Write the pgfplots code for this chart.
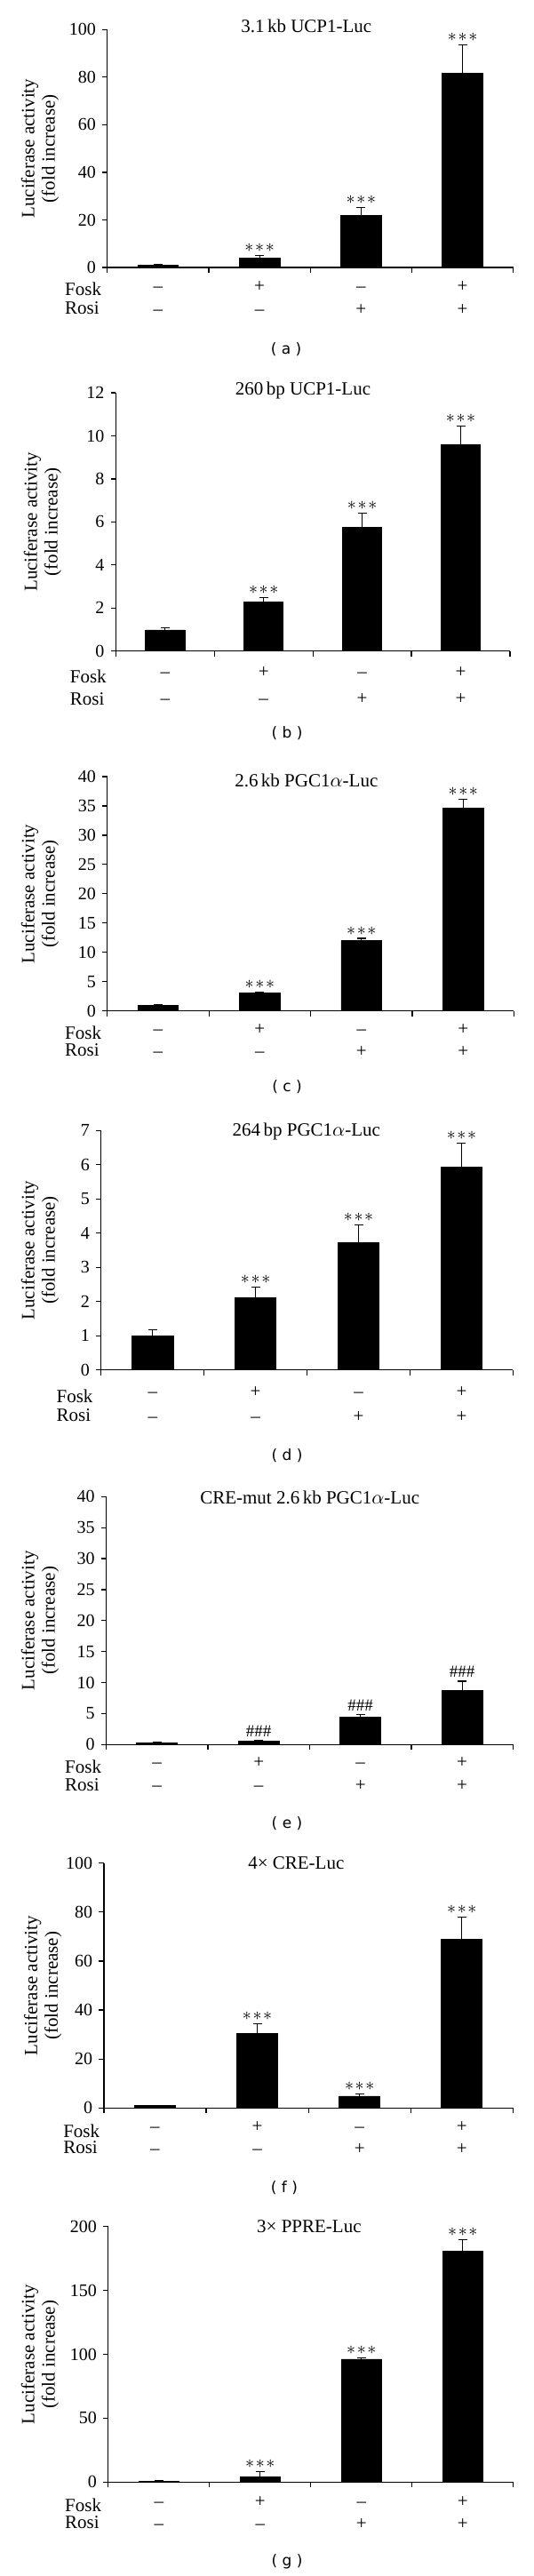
\documentclass[border=0pt]{standalone}
\usepackage{fontspec}
\setmainfont{Liberation Serif}
\newfontfamily\subfont{DejaVu Sans}
\usepackage{pgfplots}
\pgfplotsset{compat=1.18}
\newcommand{\st}{$\mathord{\ast}\mkern1.5mu\mathord{\ast}\mkern1.5mu\mathord{\ast}$}
\newcommand{\hs}{{\fontsize{9.5}{11}\selectfont\#\#\#}}
\tikzset{sg/.style={anchor=base, inner sep=0pt, font=\fontsize{10.5}{12}\selectfont},
  mk/.style={anchor=south, inner sep=0pt, yshift=1.8pt, font=\fontsize{10}{12}\selectfont},
  ttl/.style={anchor=base, inner sep=0pt, font=\fontsize{10.5}{12}\selectfont},
  ylab/.style={rotate=90, align=center, inner sep=0pt, font=\fontsize{10.5}{11.5}\selectfont},
  sub/.style={inner sep=0pt, font=\subfont\fontsize{8.5}{10}\selectfont}}
% #1 Fosk sign baseline, #2 Rosi sign baseline, #3 Fosk text baseline, #4 Rosi text baseline, #5 xshift
\newcommand{\rows}[5]{%
  \node[sg, yshift=-#1] at (axis cs:0,0) {\textendash};
  \node[sg, yshift=-#1] at (axis cs:1,0) {+};
  \node[sg, yshift=-#1] at (axis cs:2,0) {\textendash};
  \node[sg, yshift=-#1] at (axis cs:3,0) {+};
  \node[sg, yshift=-#2] at (axis cs:0,0) {\textendash};
  \node[sg, yshift=-#2] at (axis cs:1,0) {\textendash};
  \node[sg, yshift=-#2] at (axis cs:2,0) {+};
  \node[sg, yshift=-#2] at (axis cs:3,0) {+};
  \node[sg, anchor=base west, xshift=-#5, yshift=-#3] at (rel axis cs:0,0) {Fosk};
  \node[sg, anchor=base west, xshift=-#5, yshift=-#4] at (rel axis cs:0,0) {Rosi};
}
\pgfplotsset{
  panel/.style={
    scale only axis, anchor=south west, clip=false,
    ybar, bar width=0.4,
    xmin=-0.5, xmax=3.5, ymin=0, enlargelimits=false,
    axis x line*=bottom, axis y line*=left,
    axis line style={line width=0.6pt, -},
    xtick={-0.5,0.5,1.5,2.5,3.5}, xticklabels={},
    tick align=outside, major tick length=2.9pt,
    tick style={line width=0.6pt, black},
    yticklabel style={font=\fontsize{10}{12}\selectfont},
    /pgf/number format/assume math mode=true,
  },
  bars/.style={fill=black, draw=black, line width=0.4pt,
    error bars/.cd, y dir=plus, y explicit,
    error bar style={line width=0.55pt, black},
    error mark options={black, line width=0.55pt, mark size=2.5pt, rotate=90}}
}
\begin{document}
\begin{tikzpicture}
\useasboundingbox (0,0) rectangle (300pt,-1449.5pt);

% ---------- (a)
\begin{axis}[panel, at={(60.35pt,-150.5pt)}, width=228.55pt, height=133.85pt,
  ymax=100, ytick={0,20,40,60,80,100}]
\addplot[bars] coordinates {(0,1.0) +- (0,0.2) (1,4.1) +- (0,1.0) (2,21.8) +- (0,3.5) (3,81.7) +- (0,11.8)};
\node[mk] at (axis cs:1,5.1) {\st};
\node[mk] at (axis cs:2,25.3) {\st};
\node[mk] at (axis cs:3,93.5) {\st};
\rows{14pt}{27pt}{16pt}{26.5pt}{23.95pt}
\end{axis}
\node[ttl] at (172.4pt,-18.5pt) {3.1\,kb UCP1-Luc};
\node[ylab] at (22.5pt,-83.6pt) {Luciferase activity\\(fold increase)};
\node[sub] at (161pt,-196.75pt) {( a )};

% ---------- (b)
\begin{axis}[panel, at={(65.15pt,-366.35pt)}, width=221.85pt, height=145.35pt,
  ymax=12, ytick={0,2,4,6,8,10,12}]
\addplot[bars] coordinates {(0,0.98) +- (0,0.09) (1,2.28) +- (0,0.22) (2,5.75) +- (0,0.64) (3,9.6) +- (0,0.87)};
\node[mk] at (axis cs:1,2.5) {\st};
\node[mk] at (axis cs:2,6.39) {\st};
\node[mk] at (axis cs:3,10.47) {\st};
\rows{15pt}{30pt}{18pt}{30.5pt}{25.9pt}
\end{axis}
\node[ttl] at (170.5pt,-222.5pt) {260\,bp UCP1-Luc};
\node[ylab] at (24pt,-293.7pt) {Luciferase activity\\(fold increase)};
\node[sub] at (161.5pt,-412.5pt) {( b )};

% ---------- (c)
\begin{axis}[panel, at={(60.35pt,-568.85pt)}, width=228.9pt, height=131.85pt,
  ymax=40, ytick={0,5,10,15,20,25,30,35,40}]
\addplot[bars] coordinates {(0,1.0) +- (0,0.16) (1,3.03) +- (0,0.16) (2,11.98) +- (0,0.41) (3,34.6) +- (0,1.56)};
\node[mk] at (axis cs:1,3.19) {\st};
\node[mk] at (axis cs:2,12.39) {\st};
\node[mk] at (axis cs:3,36.16) {\st};
\rows{13.5pt}{26pt}{16pt}{25.5pt}{23.95pt}
\end{axis}
\node[ttl] at (172.4pt,-442.5pt) {2.6\,kb PGC1$\alpha$-Luc};
\node[ylab] at (22.5pt,-503pt) {Luciferase activity\\(fold increase)};
\node[sub] at (161.5pt,-611.5pt) {( c )};

% ---------- (d)
\begin{axis}[panel, at={(56.9pt,-770.85pt)}, width=231.8pt, height=134.7pt,
  ymax=7, ytick={0,1,2,3,4,5,6,7}]
\addplot[bars] coordinates {(0,1.0) +- (0,0.17) (1,2.1) +- (0,0.33) (2,3.73) +- (0,0.52) (3,5.94) +- (0,0.69)};
\node[mk] at (axis cs:1,2.43) {\st};
\node[mk] at (axis cs:2,4.25) {\st};
\node[mk] at (axis cs:3,6.63) {\st};
\rows{15.5pt}{29.5pt}{18.5pt}{29pt}{25.3pt}
\end{axis}
\node[ttl] at (172.4pt,-639pt) {264\,bp PGC1$\alpha$-Luc};
\node[ylab] at (22.5pt,-703.5pt) {Luciferase activity\\(fold increase)};
\node[sub] at (161.5pt,-819pt) {( d )};

% ---------- (e)
\begin{axis}[panel, at={(59.75pt,-981.65pt)}, width=228.95pt, height=139.5pt,
  ymax=40, ytick={0,5,10,15,20,25,30,35,40}]
\addplot[bars] coordinates {(0,0.25) +- (0,0.13) (1,0.5) +- (0,0.12) (2,4.44) +- (0,0.43) (3,8.79) +- (0,1.44)};
\node[mk] at (axis cs:1,0.62) {\hs};
\node[mk] at (axis cs:2,4.87) {\hs};
\node[mk] at (axis cs:3,10.23) {\hs};
\rows{13pt}{26pt}{16pt}{26pt}{23.35pt}
\end{axis}
\node[ttl] at (174.35pt,-846pt) {CRE-mut 2.6\,kb PGC1$\alpha$-Luc};
\node[ylab] at (22.5pt,-911.9pt) {Luciferase activity\\(fold increase)};
\node[sub] at (161.5pt,-1026pt) {( e )};

% ---------- (f)
\begin{axis}[panel, at={(58.45pt,-1186.15pt)}, width=230.25pt, height=137.8pt,
  ymax=100, ytick={0,20,40,60,80,100}]
\addplot[bars] coordinates {(0,0.9) +- (0,0.2) (1,30.35) +- (0,3.95) (2,4.84) +- (0,0.96) (3,68.8) +- (0,9.1)};
\node[mk] at (axis cs:1,34.3) {\st};
\node[mk] at (axis cs:2,5.8) {\st};
\node[mk] at (axis cs:3,77.9) {\st};
\rows{13.5pt}{26pt}{16.5pt}{25.5pt}{23pt}
\end{axis}
\node[ttl] at (166.65pt,-1051.5pt) {4\texttimes{} CRE-Luc};
\node[ylab] at (24.15pt,-1117.3pt) {Luciferase activity\\(fold increase)};
\node[sub] at (160pt,-1231pt) {( f )};

% ---------- (g)
\begin{axis}[panel, at={(60.9pt,-1396.65pt)}, width=228pt, height=143.8pt,
  ymax=200, ytick={0,50,100,150,200}]
\addplot[bars] coordinates {(0,0.8) +- (0,0.3) (1,4.4) +- (0,3.9) (2,96.2) +- (0,1.1) (3,180.5) +- (0,9.3)};
\node[mk] at (axis cs:1,8.3) {\st};
\node[mk] at (axis cs:2,97.3) {\st};
\node[mk] at (axis cs:3,189.8) {\st};
\rows{14pt}{26.5pt}{16.5pt}{26pt}{24.5pt}
\end{axis}
\node[ttl] at (173.95pt,-1256pt) {3\texttimes{} PPRE-Luc};
\node[ylab] at (22.5pt,-1324.8pt) {Luciferase activity\\(fold increase)};
\node[sub] at (161.5pt,-1441.5pt) {( g )};
\end{tikzpicture}
\end{document}
